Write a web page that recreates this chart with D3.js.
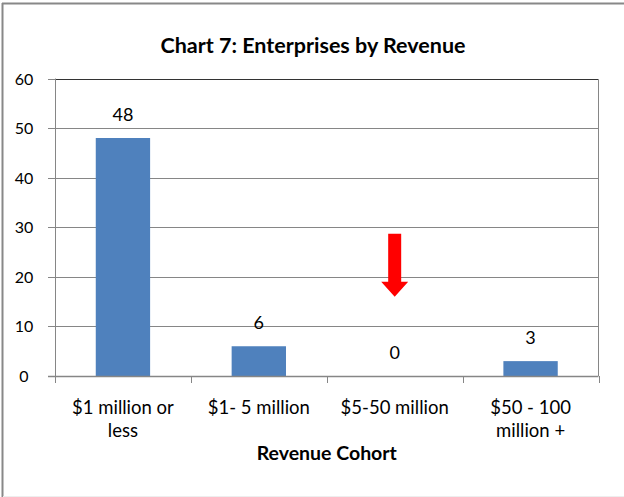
<!DOCTYPE html>
<html><head><meta charset="utf-8">
<script src="https://cdn.jsdelivr.net/npm/d3@7"></script>
<style>
html,body{margin:0;padding:0;background:#fff;}
text{font-family:Lato,"Open Sans",sans-serif;fill:#000;}
</style></head>
<body><svg id="c" width="624" height="497"></svg>
<script>
const categories = ["$1 million or less", "$1- 5 million", "$5-50 million", "$50 - 100 million +"];
const categoryLines = [["$1 million or", "less"], ["$1- 5 million"], ["$5-50 million"], ["$50 - 100", "million +"]];
const values = [48, 6, 0, 3];
const yTicks = [0, 10, 20, 30, 40, 50, 60];
const title = "Chart 7: Enterprises by Revenue";
const xTitle = "Revenue Cohort";
// red arrow annotation, in data units (category, top value, head-base value, tip value)
const arrowCategory = "$5-50 million";
const arrowValues = [28.7, 19, 16];

const svg = d3.select("#c");
const m = {left:55, right:598.5, top:78.5, bottom:376};

// chart border
svg.append("line").attr("x1",2.5).attr("x2",2.5).attr("y1",3).attr("y2",497).attr("stroke","#888").attr("stroke-width",2);
svg.append("line").attr("x1",2).attr("x2",624).attr("y1",3.5).attr("y2",3.5).attr("stroke","#888").attr("stroke-width",2);
svg.append("line").attr("x1",3).attr("x2",624).attr("y1",496.5).attr("y2",496.5).attr("stroke","#eee").attr("stroke-width",1);

const x = d3.scaleBand().domain(categories).range([m.left, m.right]).paddingInner(0.6).paddingOuter(0.3);
const xs = d3.scaleBand().domain(categories).range([m.left, m.right]);
const y = d3.scaleLinear().domain([0, 60]).range([m.bottom, m.top]);

// gridlines
svg.append("g").selectAll("line").data(yTicks.filter(t=>t>0)).join("line")
  .attr("x1", m.left).attr("x2", m.right)
  .attr("y1", d=>Math.round(y(d))+0.5).attr("y2", d=>Math.round(y(d))+0.5)
  .attr("stroke", d=> d===60 ? "#333" : "#868686").attr("stroke-width",1);
// right border of plot
svg.append("line").attr("x1", m.right).attr("x2", m.right).attr("y1", Math.round(y(60))+0.5).attr("y2", y(0))
  .attr("stroke","#868686");

// bars
svg.append("g").selectAll("rect").data(values).join("rect")
  .attr("x", (d,i)=>x(categories[i])).attr("width", x.bandwidth())
  .attr("y", d=>y(d)).attr("height", d=>y(0)-y(d))
  .attr("fill", "#4F81BD");

// y axis
const ya = svg.append("g");
ya.append("line").attr("x1", m.left+0.5).attr("x2", m.left+0.5).attr("y1", y(60)).attr("y2", y(0)).attr("stroke","#868686");
ya.selectAll(".tk").data(yTicks).join("line").attr("class","tk")
  .attr("x1", m.left-7).attr("x2", m.left).attr("y1", d=>Math.round(y(d))+0.5).attr("y2", d=>Math.round(y(d))+0.5)
  .attr("stroke","#868686");
ya.selectAll("text").data(yTicks).join("text")
  .attr("x", 24).attr("y", d=>y(d)+6).attr("text-anchor","middle")
  .attr("font-size", 16).text(d=>d);

// x axis
const xa = svg.append("g");
xa.append("line").attr("x1", m.left-7).attr("x2", m.right).attr("y1", Math.round(y(0))+0.5).attr("y2", Math.round(y(0))+0.5).attr("stroke","#868686").attr("stroke-width",1.5);
const bounds = categories.map(c=>xs(c)).concat([m.right]);
xa.selectAll(".tk").data(bounds).join("line").attr("class","tk")
  .attr("x1", d=>Math.round(d)+0.5).attr("x2", d=>Math.round(d)+0.5).attr("y1", y(0)).attr("y2", y(0)+7)
  .attr("stroke","#868686");
xa.selectAll("text").data(categoryLines).join("text")
  .attr("text-anchor","middle").attr("font-size", 18.5)
  .each(function(lines,i){
    const t = d3.select(this);
    lines.forEach((l,j)=>{
      t.append("tspan").attr("x", xs(categories[i]) + xs.bandwidth()/2).attr("y", 414 + j*23).text(l);
    });
  });

// value labels
svg.append("g").selectAll("text").data(values).join("text")
  .attr("x", (d,i)=>x(categories[i]) + x.bandwidth()/2).attr("y", d=>y(d)-17)
  .attr("text-anchor","middle").attr("font-size", 18).text(d=>d);

// titles
svg.append("text").attr("x", 313).attr("y", 53).attr("text-anchor","middle")
  .attr("font-size", 21.5).attr("font-weight","bold").text(title);
svg.append("text").attr("x", (m.left+m.right)/2).attr("y", 460).attr("text-anchor","middle")
  .attr("font-size", 19.5).attr("font-weight","bold").text(xTitle);

// red arrow
const ax = xs(arrowCategory) + xs.bandwidth()/2;
const sw = 6.5, hw = 13.5;
const pts = [
  [ax-sw, y(arrowValues[0])], [ax+sw, y(arrowValues[0])], [ax+sw, y(arrowValues[1])],
  [ax+hw, y(arrowValues[1])], [ax, y(arrowValues[2])], [ax-hw, y(arrowValues[1])], [ax-sw, y(arrowValues[1])]
];
svg.append("path").attr("d", d3.line()(pts) + "Z").attr("fill", "#FF0000");
</script></body></html>
